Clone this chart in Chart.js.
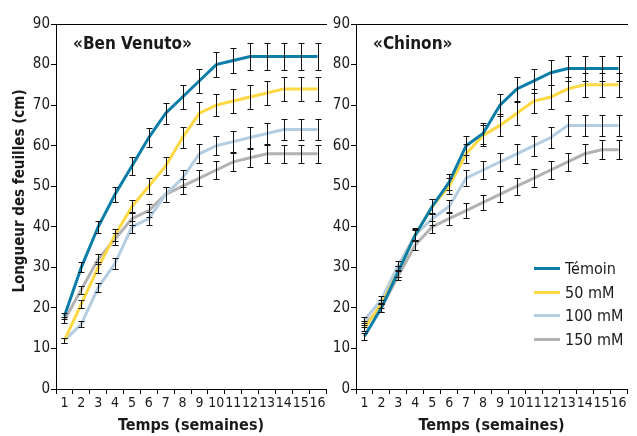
<!DOCTYPE html>
<html><head><meta charset="utf-8">
<script src="https://cdn.jsdelivr.net/npm/chart.js@4/dist/chart.umd.min.js"></script>
<style>
body{margin:0;background:#fff;}
#wrap{position:relative;width:637px;height:436px;overflow:hidden;font-family:'Liberation Sans Narrow','DejaVu Sans Condensed',sans-serif;color:#1a1a1a;}
canvas{position:absolute;top:0;}
.ttl{position:absolute;font-weight:bold;font-size:17px;line-height:20px;white-space:nowrap;}
#ytitle{position:absolute;left:-131px;top:181px;width:300px;height:20px;line-height:20px;text-align:center;font-weight:bold;font-size:15px;transform:rotate(-90deg);white-space:nowrap;}
.lg{position:absolute;left:534px;height:20px;line-height:20px;font-size:16px;white-space:nowrap;}
.lg span{display:inline-block;width:26px;height:3px;vertical-align:middle;margin-right:5px;position:relative;top:-1px;}
</style></head><body>
<div id="wrap">
<canvas id="c1" width="330" height="436" style="left:0"></canvas>
<canvas id="c2" width="307" height="436" style="left:330px"></canvas>
<div id="ytitle">Longueur des feuilles (cm)</div>
<div class="ttl" style="left:73px;top:33px">«Ben Venuto»</div>
<div class="ttl" style="left:373px;top:33px">«Chinon»</div>
<div id="legend"></div>
</div>
<script>
const weeks = ['1','2','3','4','5','6','7','8','9','10','11','12','13','14','15','16'];
const seriesNames = ['Témoin','50 mM','100 mM','150 mM'];
const seriesColors = ['#0a7ea9','#fdd843','#b4cde1','#b2b2b2'];

// «Ben Venuto»
const temoinBV = [18, 30, 40, 48, 55, 62, 68, 72, 76, 80, 81, 82, 82, 82, 82, 82];
const mm50BV   = [12, 21, 30, 38, 45, 50, 55, 62, 68, 70, 71, 72, 73, 74, 74, 74];
const mm100BV  = [12, 16, 25, 31, 40, 42, 48, 52, 58, 60, 61, 62, 63, 64, 64, 64];
const mm150BV  = [17, 24.5, 32, 37, 42, 44, 48, 50, 52, 54, 56, 57, 58, 58, 58, 58];
const temoinErrBV = [0.8, 1.2, 1.5, 1.8, 2.2, 2.3, 2.6, 2.9, 3, 3, 3.1, 3.3, 3.3, 3.3, 3.3, 3.3];
const mm50ErrBV   = [0.6, 1, 1.3, 1.5, 1.7, 2, 2.2, 2.6, 2.7, 2.8, 2.9, 3, 3, 3, 3, 3];
const mm100ErrBV  = [0.6, 0.8, 1.1, 1.3, 1.5, 1.6, 1.9, 2.1, 2.3, 2.4, 2.5, 2.6, 2.6, 2.6, 2.6, 2.6];
const mm150ErrBV  = [0.8, 1, 1.3, 1.5, 1.6, 1.7, 1.9, 1.9, 2, 2.1, 2.2, 2.2, 2.2, 2.2, 2.2, 2.2];

// «Chinon»
const temoinCH = [13, 20, 29, 38, 45, 51, 60, 63, 70, 74, 76, 78, 79, 79, 79, 79];
const mm50CH   = [15, 21, 29, 38, 45, 50, 58, 62.5, 65, 68, 71, 72, 74, 75, 75, 75];
const mm100CH  = [17, 22, 30.5, 38, 42, 45, 52, 54, 56, 58, 60, 62, 65, 65, 65, 65];
const mm150CH  = [16, 20, 28, 35.5, 40, 42, 44, 46, 48, 50, 52, 54, 56, 58, 59, 59];
const temoinErrCH = [0.8, 1, 1.3, 1.6, 1.8, 2, 2.3, 2.5, 2.8, 2.9, 3, 3, 3, 3, 3, 3];
const mm50ErrCH   = [0.7, 1, 1.3, 1.5, 1.8, 2, 2.3, 2.5, 2.7, 2.8, 2.9, 3, 3, 3, 3, 3];
const mm100ErrCH  = [0.7, 0.9, 1.1, 1.3, 1.5, 1.7, 1.9, 2.1, 2.2, 2.4, 2.5, 2.6, 2.6, 2.6, 2.6, 2.6];
const mm150ErrCH  = [0.7, 0.9, 1.1, 1.3, 1.5, 1.6, 1.8, 1.9, 2, 2.1, 2.2, 2.2, 2.3, 2.3, 2.3, 2.3];

const F = "'Liberation Sans Narrow','DejaVu Sans Condensed',sans-serif";
const TXT = '#1a1a1a';

const errorBars = {
  id: 'errorBars',
  afterDatasetsDraw(chart) {
    const ctx = chart.ctx, ys = chart.scales.y;
    ctx.save();
    ctx.strokeStyle = '#111';
    ctx.lineWidth = 1;
    chart.data.datasets.forEach((ds, i) => {
      const meta = chart.getDatasetMeta(i);
      meta.data.forEach((pt, j) => {
        const v = ds.data[j], e = ds.errors[j];
        const x = Math.round(pt.x) + 0.5;
        const y1 = Math.round(ys.getPixelForValue(v + e)) + 0.5;
        const y2 = Math.round(ys.getPixelForValue(v - e)) + 0.5;
        ctx.beginPath();
        ctx.moveTo(x, y1); ctx.lineTo(x, y2);
        ctx.moveTo(x - 3, y1); ctx.lineTo(x + 3, y1);
        ctx.moveTo(x - 3, y2); ctx.lineTo(x + 3, y2);
        ctx.stroke();
      });
    });
    ctx.restore();
  }
};

function makeDatasets(vals, errs) {
  return vals.map((v, i) => ({
    label: seriesNames[i], data: v, errors: errs[i],
    borderColor: seriesColors[i], backgroundColor: seriesColors[i],
    borderWidth: 3, pointRadius: 0, tension: 0, fill: false
  }));
}

function makeChart(id, vals, errs, yWidth, padRight) {
  return new Chart(document.getElementById(id), {
    type: 'line',
    data: { labels: weeks, datasets: makeDatasets(vals, errs) },
    plugins: [errorBars],
    options: {
      responsive: false, animation: false, devicePixelRatio: 1,
      layout: { padding: { left: 0, right: padRight, top: 24, bottom: 0 } },
      plugins: { legend: { display: false }, tooltip: { enabled: false } },
      scales: {
        x: {
          type: 'category', offset: true,
          grid: { offset: true, drawOnChartArea: false, tickLength: 5, color: '#000', lineWidth: 1 },
          border: { display: true, color: '#000', width: 1 },
          ticks: { color: TXT, font: { size: 14, family: F }, padding: 1, autoSkip: false, maxRotation: 0 },
          title: { display: true, text: 'Temps (semaines)', color: TXT, font: { size: 16, weight: 'bold', family: F }, padding: { top: 0, bottom: 1 } },
          afterFit(s) { s.height = 47; }
        },
        xTop: {
          type: 'category', position: 'top', labels: weeks, offset: true,
          grid: { display: false }, ticks: { display: false },
          border: { display: true, color: '#000', width: 1 },
          afterFit(s) { s.height = 0; }
        },
        y: {
          min: 0, max: 90,
          grid: { drawOnChartArea: false, tickLength: 5, color: '#000', lineWidth: 1 },
          border: { display: true, color: '#000', width: 1 },
          ticks: { stepSize: 10, color: TXT, font: { size: 15, family: F }, padding: 1 },
          afterFit(s) { s.width = yWidth; }
        }
      }
    }
  });
}

makeChart('c1', [temoinBV, mm50BV, mm100BV, mm150BV], [temoinErrBV, mm50ErrBV, mm100ErrBV, mm150ErrBV], 56, 4);
makeChart('c2', [temoinCH, mm50CH, mm100CH, mm150CH], [temoinErrCH, mm50ErrCH, mm100ErrCH, mm150ErrCH], 26, 10);

const lg = document.getElementById('legend');
const legendTops = [259, 283, 306, 330];
seriesNames.forEach((n, i) => {
  const d = document.createElement('div');
  d.className = 'lg';
  d.style.top = legendTops[i] + 'px';
  d.innerHTML = '<span style="background:' + seriesColors[i] + '"></span>' + n;
  lg.appendChild(d);
});
</script>
</body></html>
